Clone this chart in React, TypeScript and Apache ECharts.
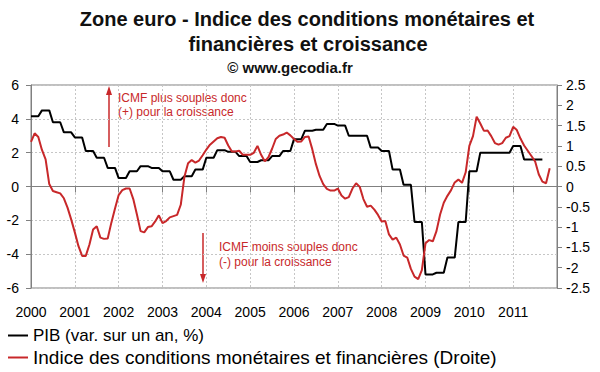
import React, { useEffect, useRef } from 'react';
import * as echarts from 'echarts';

const START_YEAR = 2000;
const END_YEAR = 2012;
const yearLabels = ['2000', '2001', '2002', '2003', '2004', '2005', '2006', '2007', '2008', '2009', '2010', '2011'];

const titleLines = [
  'Zone euro - Indice des conditions monétaires et',
  'financières et croissance',
  '© www.gecodia.fr',
];

const seriesNames = ['PIB (var. sur un an, %)', 'Indice des conditions monétaires et financières (Droite)'];

// PIB, var. sur un an (%), quarterly 2000Q1 .. 2011Q3 (left axis)
const gdpQuarterly = [
  4.15, 4.5, 3.8, 3.2,
  2.9, 2.1, 1.7, 1.1,
  0.5, 0.9, 1.2, 1.1,
  0.9, 0.4, 0.6, 1.0,
  1.7, 2.15, 2.05, 1.8,
  1.45, 1.55, 1.8, 2.1,
  2.8, 3.3, 3.35, 3.7,
  3.6, 3.0, 3.0, 2.3,
  2.1, 1.0, 0.1, -2.1,
  -5.2, -5.1, -4.2, -2.1,
  0.9, 2.0, 2.0, 2.0,
  2.4, 1.6, 1.6,
];

// ICMF, monthly Jan 2000 .. Nov 2011 (right axis)
const icmfMonthly = [
  1.10, 1.31, 1.22, 0.90, 0.67, 0.06, -0.11, -0.14, -0.17, -0.29, -0.52, -0.81,
  -1.13, -1.47, -1.71, -1.71, -1.43, -1.06, -0.98, -1.26, -1.29, -1.28, -0.89, -0.54,
  -0.21, -0.09, -0.05, -0.05, -0.31, -0.69, -1.10, -1.13, -1.00, -0.98, -0.86, -0.71,
  -0.90, -0.85, -0.76, -0.73, -0.70, -0.45, 0.24, 0.57, 0.65, 0.59, 0.64, 0.77,
  0.91, 1.03, 1.11, 1.19, 1.22, 1.20, 1.01, 0.86, 0.86, 0.88, 0.78, 0.78,
  0.78, 0.83, 1.00, 0.78, 0.62, 0.72, 0.93, 1.17, 1.25, 1.28, 1.33, 1.26,
  1.17, 1.10, 1.11, 1.22, 1.23, 0.92, 0.55, 0.26, 0.06, -0.06, -0.10, -0.10,
  -0.05, -0.22, -0.30, -0.26, -0.05, 0.08, -0.01, -0.31, -0.50, -0.47, -0.57, -0.70,
  -0.86, -0.85, -1.18, -1.31, -1.26, -1.43, -1.70, -1.75, -2.03, -2.22, -2.28, -2.06,
  -1.40, -1.32, -1.35, -1.10, -0.69, -0.40, -0.23, -0.09, 0.10, 0.17, 0.09, 0.35,
  1.00, 1.24, 1.72, 1.55, 1.37, 1.38, 1.24, 1.07, 1.03, 1.07, 1.20, 1.24,
  1.47, 1.39, 1.18, 1.01, 0.88, 0.75, 0.62, 0.30, 0.12, 0.08, 0.45,
];

const annotUp = ['ICMF plus souples donc', '(+) pour la croissance'];
const annotDown = ['ICMF moins souples donc', '(-) pour la croissance'];

const FONT = '"Liberation Sans", Arial, sans-serif';
const RED = '#c8282a';
const AXIS = '#808080';
const GRIDC = '#c6c6c6';

export default function App() {
  const ref = useRef<HTMLDivElement>(null);

  useEffect(() => {
    if (!ref.current) return;
    const chart = echarts.init(ref.current, null, { renderer: 'svg' });

    const gdpData: [number, number][] = [];
    gdpQuarterly.forEach((v, q) => {
      for (let k = 0; k < 3; k++) gdpData.push([START_YEAR + (3 * q + k) / 12, v]);
    });
    const icmfData = icmfMonthly.map((v, m) => [START_YEAR + m / 12, v]);

    const txt = (text: string, x: number, y: number, size: number, bold: boolean, color: string, align: string) => ({
      type: 'text',
      x,
      y,
      silent: true,
      style: {
        text,
        fontSize: size,
        fontWeight: bold ? 'bold' : 'normal',
        fontFamily: FONT,
        fill: color,
        align,
        verticalAlign: 'middle',
      },
    });

    chart.setOption({
      animation: false,
      backgroundColor: '#ffffff',
      grid: {
        left: 31,
        right: 43,
        top: 85,
        bottom: 84,
        show: true,
        borderColor: AXIS,
        borderWidth: 1,
        backgroundColor: 'transparent',
      },
      xAxis: [
        {
          type: 'value',
          min: START_YEAR,
          max: END_YEAR,
          interval: 1,
          axisLine: { show: true, onZero: true, onZeroAxisIndex: 0, lineStyle: { color: AXIS, width: 1 } },
          axisTick: { show: true, length: 6, lineStyle: { color: AXIS } },
          axisLabel: { show: false },
          splitLine: { show: true, lineStyle: { color: GRIDC, type: [2, 2], width: 1 } },
        },
        {
          type: 'value',
          position: 'bottom',
          min: START_YEAR,
          max: END_YEAR,
          interval: 1,
          axisLine: { show: false, onZero: false },
          axisTick: { show: false },
          splitLine: { show: false },
          axisLabel: {
            margin: 17,
            fontSize: 14,
            color: '#000',
            fontFamily: FONT,
            formatter: (v: number) => yearLabels[Math.round(v - START_YEAR)] ?? '',
          },
        },
      ],
      yAxis: [
        {
          type: 'value',
          position: 'left',
          min: -6,
          max: 6,
          interval: 2,
          axisLine: { show: true, onZero: false, lineStyle: { color: AXIS } },
          axisTick: { show: true, length: 5, lineStyle: { color: AXIS } },
          axisLabel: { margin: 12, fontSize: 14, color: '#000', fontFamily: FONT },
          splitLine: { show: true, lineStyle: { color: GRIDC, type: [2, 2], width: 1 } },
        },
        {
          type: 'value',
          position: 'right',
          min: -2.5,
          max: 2.5,
          interval: 0.5,
          axisLine: { show: true, onZero: false, lineStyle: { color: AXIS } },
          axisTick: { show: true, length: 5, lineStyle: { color: AXIS } },
          axisLabel: { margin: 9, fontSize: 14, color: '#000', fontFamily: FONT },
          splitLine: { show: false },
        },
      ],
      legend: {
        orient: 'vertical',
        left: 8,
        top: 327,
        itemWidth: 20,
        itemHeight: 2,
        itemGap: 4,
        icon: 'rect',
        padding: 0,
        selectedMode: false,
        textStyle: { fontSize: 17, color: '#000', fontFamily: FONT },
        data: [
          { name: seriesNames[0], textStyle: { fontSize: 17 } },
          { name: seriesNames[1], textStyle: { fontSize: 19 } },
        ],
      },
      series: [
        {
          name: seriesNames[0],
          type: 'line',
          xAxisIndex: 0,
          yAxisIndex: 0,
          data: gdpData,
          showSymbol: false,
          symbol: 'none',
          lineStyle: { color: '#000', width: 2 },
          itemStyle: { color: '#000' },
          z: 3,
        },
        {
          name: seriesNames[1],
          type: 'line',
          xAxisIndex: 0,
          yAxisIndex: 1,
          data: icmfData,
          showSymbol: false,
          symbol: 'none',
          lineStyle: { color: RED, width: 2 },
          itemStyle: { color: RED },
          z: 4,
        },
      ],
      graphic: [
        txt(titleLines[0], 307, 19, 20, true, '#111', 'center'),
        txt(titleLines[1], 308, 44, 20, true, '#111', 'center'),
        txt(titleLines[2], 290, 67, 15, true, '#111', 'center'),
        // up arrow
        { type: 'line', silent: true, shape: { x1: 109, y1: 147, x2: 109, y2: 93 }, style: { stroke: RED, lineWidth: 1.5 } },
        { type: 'polygon', silent: true, shape: { points: [[109, 86], [106, 95], [112, 95]] }, style: { fill: RED } },
        txt(annotUp[0], 118, 98, 12, false, RED, 'left'),
        txt(annotUp[1], 118, 112, 12, false, RED, 'left'),
        // down arrow
        { type: 'line', silent: true, shape: { x1: 203, y1: 233, x2: 203, y2: 276 }, style: { stroke: RED, lineWidth: 1.5 } },
        { type: 'polygon', silent: true, shape: { points: [[203, 283], [200, 274], [206, 274]] }, style: { fill: RED } },
        txt(annotDown[0], 219, 247, 12, false, RED, 'left'),
        txt(annotDown[1], 219, 262, 12, false, RED, 'left'),
      ],
    });

    return () => chart.dispose();
  }, []);

  return <div ref={ref} style={{ position: 'fixed', left: 0, top: 0, width: 600, height: 372 }} />;
}
